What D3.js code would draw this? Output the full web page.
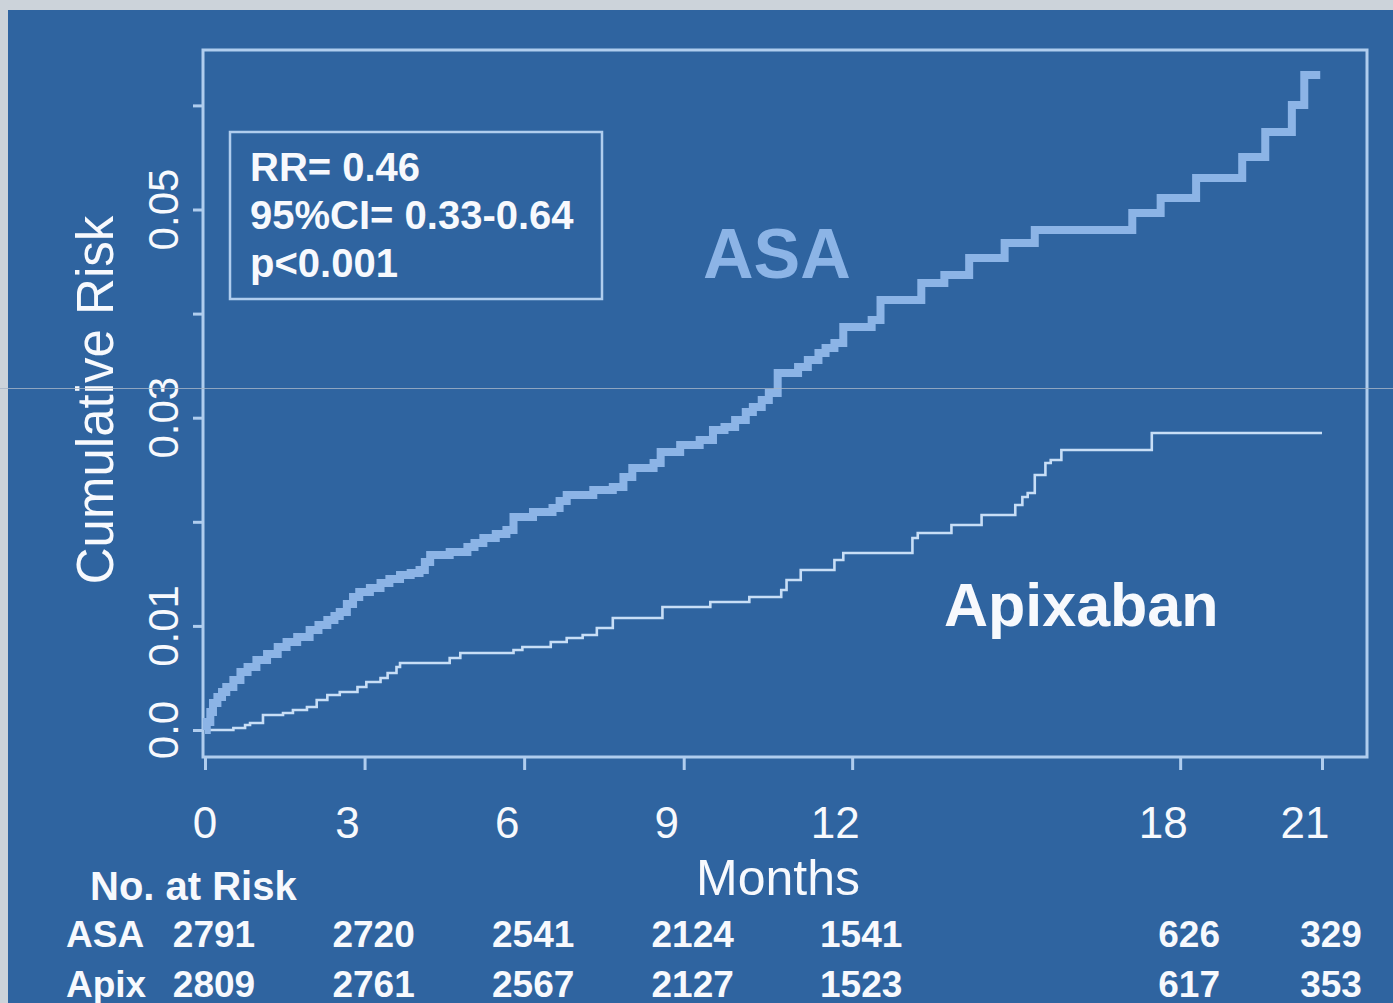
<!DOCTYPE html>
<html>
<head>
<meta charset="utf-8">
<script src="https://cdn.jsdelivr.net/npm/d3@7"></script>
<style>
  html, body { margin: 0; padding: 0; background: #ccd3da; }
  svg { display: block; }
  text { font-family: "Liberation Sans", Arial, sans-serif; }
</style>
</head>
<body>
<svg id="chart" width="1393" height="1003"></svg>
<script>
// Cumulative risk step curves: [day, cumulative risk after event]
const asaSteps = [
  [0, 0], [1, 0.00077], [3, 0.00173], [4.5, 0.00259], [7, 0.00317], [9.6, 0.00365],
  [12, 0.00413], [16, 0.0048], [20, 0.00557], [24, 0.00605], [29, 0.00672], [35, 0.0073],
  [41, 0.00797], [46, 0.00845], [52, 0.00893], [59, 0.00961], [64, 0.01009], [69, 0.01057],
  [73, 0.01095], [76, 0.01134], [80, 0.0121], [83.5, 0.01278], [87, 0.01326], [93, 0.01364],
  [99, 0.01412], [104, 0.01451], [110, 0.01489], [116, 0.01508], [121, 0.01537], [124, 0.01614],
  [127, 0.01681], [138, 0.0171], [148, 0.01758], [152, 0.01796], [157, 0.01844], [164, 0.01883],
  [170, 0.01921], [174, 0.02046], [185, 0.02094], [196, 0.02133], [200, 0.022], [204, 0.02257],
  [219, 0.02305], [230, 0.02334], [236, 0.0243], [241, 0.02517], [253, 0.02565], [257, 0.02671],
  [268, 0.02738], [279, 0.02786], [286.5, 0.02882], [293, 0.02911], [299, 0.02978], [305, 0.03055],
  [309, 0.03103], [314, 0.0317], [318, 0.03237], [323, 0.03429], [334.5, 0.03487], [340, 0.03554],
  [346, 0.03622], [350, 0.0367], [355, 0.03718], [360, 0.03871], [376, 0.03939], [381, 0.04131],
  [404, 0.04294], [417, 0.04371], [431, 0.04534], [451, 0.04678], [468, 0.04803], [523, 0.04966],
  [539, 0.0511], [559, 0.05303], [585, 0.05504], [598, 0.05744], [613, 0.06004], [620, 0.06292]
];
const asaEnd = 629;

const apixSteps = [
  [0, 0], [16, 0.00019], [22.6, 0.00048], [25.4, 0.00067], [32.7, 0.00144], [44, 0.00163],
  [49.6, 0.00192], [57.5, 0.00221], [63, 0.00288], [69, 0.00336], [76, 0.00365], [86, 0.00413],
  [91, 0.00461], [99, 0.005], [103, 0.00548], [108, 0.00605], [110, 0.00644], [138, 0.00692],
  [144, 0.0074], [174, 0.00769], [179, 0.00797], [195, 0.00845], [204, 0.00884], [213, 0.00913],
  [221, 0.0098], [230, 0.01076], [258, 0.01182], [285, 0.0123], [307, 0.01278], [325, 0.01345],
  [328, 0.01441], [336, 0.01537], [355, 0.01633], [360, 0.017], [399, 0.01844], [402, 0.01892],
  [421, 0.01969], [438, 0.02065], [457, 0.02161], [461, 0.02238], [464, 0.02277], [468, 0.0245],
  [474, 0.02565], [477, 0.02594], [483, 0.0269], [534, 0.02853]
];
const apixEnd = 630;

// Month ticks and the day each one sits on
const monthLabels = ["0", "3", "6", "9", "12", "18", "21"];
const monthDays = [0, 90, 180, 270, 365, 550, 630];

// Risk axis ticks (labels only on every other level)
const riskTicks = [0, 0.01, 0.02, 0.03, 0.04, 0.05, 0.06];
const riskLabels = ["0.0", "0.01", "", "0.03", "", "0.05", ""];

// Number at risk, one value per month tick
const riskGroups = ["ASA", "Apix"];
const asaAtRisk = [2791, 2720, 2541, 2124, 1541, 626, 329];
const apixAtRisk = [2809, 2761, 2567, 2127, 1523, 617, 353];

const statLines = ["RR= 0.46", "95%CI= 0.33-0.64", "p<0.001"];

const BG = "#2f64a0";
const FRAME = "#b0cdee";
const ASA_COL = "#8cb4e6";
const APIX_COL = "#c8def6";
const TXT = "#f7f9fd";

const svg = d3.select("#chart");

// slide background with the pale margin at top and left
svg.append("rect").attr("x", 0).attr("y", 0).attr("width", 1393).attr("height", 1003).attr("fill", "#ccd3da");
svg.append("rect").attr("x", 8).attr("y", 10).attr("width", 1385).attr("height", 993).attr("fill", BG);

const x = d3.scaleLinear().domain([0, 630]).range([205, 1322]);
const y = d3.scaleLinear().domain([0, 0.06]).range([730, 105.4]);

// plot frame
svg.append("rect")
  .attr("x", 203).attr("y", 50).attr("width", 1164).attr("height", 707)
  .attr("fill", "none").attr("stroke", FRAME).attr("stroke-width", 3);

// x axis ticks
const xAxis = d3.axisBottom(x).tickValues(monthDays).tickSize(13).tickFormat("");
const gx = svg.append("g").attr("transform", "translate(0,757)").call(xAxis);
gx.select(".domain").remove();
gx.selectAll(".tick line").attr("stroke", FRAME).attr("stroke-width", 3);

// x tick labels
svg.append("g").selectAll("text").data(monthDays).join("text")
  .attr("x", (d, i) => x(d) - (i === 0 ? 0 : 17))
  .attr("y", 838)
  .attr("text-anchor", "middle")
  .attr("font-size", 44)
  .attr("fill", TXT)
  .text((d, i) => monthLabels[i]);

// y axis ticks
const yAxis = d3.axisLeft(y).tickValues(riskTicks).tickSize(10).tickFormat("");
const gy = svg.append("g").attr("transform", "translate(203,0)").call(yAxis);
gy.select(".domain").remove();
gy.selectAll(".tick line").attr("stroke", FRAME).attr("stroke-width", 3);

// y tick labels, rotated
svg.append("g").selectAll("text").data(riskTicks.filter((d, i) => riskLabels[i] !== "")).join("text")
  .attr("transform", d => `translate(178,${y(d)}) rotate(-90)`)
  .attr("text-anchor", "middle")
  .attr("font-size", 42)
  .attr("fill", TXT)
  .text(d => riskLabels[riskTicks.indexOf(d)]);

// axis titles
svg.append("text")
  .attr("transform", "translate(113,400) rotate(-90)")
  .attr("text-anchor", "middle")
  .attr("font-size", 51)
  .attr("fill", TXT)
  .text("Cumulative Risk");

svg.append("text")
  .attr("x", 778).attr("y", 895)
  .attr("text-anchor", "middle")
  .attr("font-size", 50)
  .attr("fill", TXT)
  .text("Months");

// step curves
const step = d3.line().x(d => x(d[0])).y(d => y(d[1])).curve(d3.curveStepAfter);

svg.append("path")
  .datum(apixSteps.concat([[apixEnd, apixSteps[apixSteps.length - 1][1]]]))
  .attr("d", step)
  .attr("fill", "none").attr("stroke", APIX_COL).attr("stroke-width", 2.6);

svg.append("path")
  .datum(asaSteps.concat([[asaEnd, asaSteps[asaSteps.length - 1][1]]]))
  .attr("d", step)
  .attr("fill", "none").attr("stroke", ASA_COL).attr("stroke-width", 8)
  .attr("stroke-linejoin", "miter");

// curve labels
svg.append("text")
  .attr("x", 703).attr("y", 278)
  .attr("font-size", 70).attr("font-weight", "bold")
  .attr("fill", ASA_COL)
  .text("ASA");

svg.append("text")
  .attr("x", 944).attr("y", 626)
  .attr("font-size", 61).attr("font-weight", "bold")
  .attr("fill", TXT)
  .text("Apixaban");

// statistics box
svg.append("rect")
  .attr("x", 230).attr("y", 132).attr("width", 372).attr("height", 167)
  .attr("fill", "none").attr("stroke", FRAME).attr("stroke-width", 2.5);

svg.append("g").selectAll("text").data(statLines).join("text")
  .attr("x", 250)
  .attr("y", (d, i) => 181 + i * 48)
  .attr("font-size", 40).attr("font-weight", "bold")
  .attr("fill", TXT)
  .text(d => d);

// number at risk table
svg.append("text")
  .attr("x", 90).attr("y", 900)
  .attr("font-size", 40).attr("font-weight", "bold")
  .attr("fill", TXT)
  .text("No. at Risk");

const rows = [asaAtRisk, apixAtRisk];
rows.forEach((vals, r) => {
  const baseY = 947 + r * 50;
  svg.append("text")
    .attr("x", 66).attr("y", baseY)
    .attr("font-size", 37).attr("font-weight", "bold")
    .attr("fill", TXT)
    .text(riskGroups[r]);
  svg.append("g").selectAll("text").data(vals).join("text")
    .attr("x", (d, i) => x(monthDays[i]) + 9)
    .attr("y", baseY)
    .attr("text-anchor", "middle")
    .attr("font-size", 37).attr("font-weight", "bold")
    .attr("fill", TXT)
    .text(d => d);
});

// faint rule across the slide
svg.append("line")
  .attr("x1", 0).attr("x2", 1393).attr("y1", 388.5).attr("y2", 388.5)
  .attr("stroke", "#a7b6c8").attr("stroke-width", 1).attr("opacity", 0.8);
</script>
</body>
</html>
